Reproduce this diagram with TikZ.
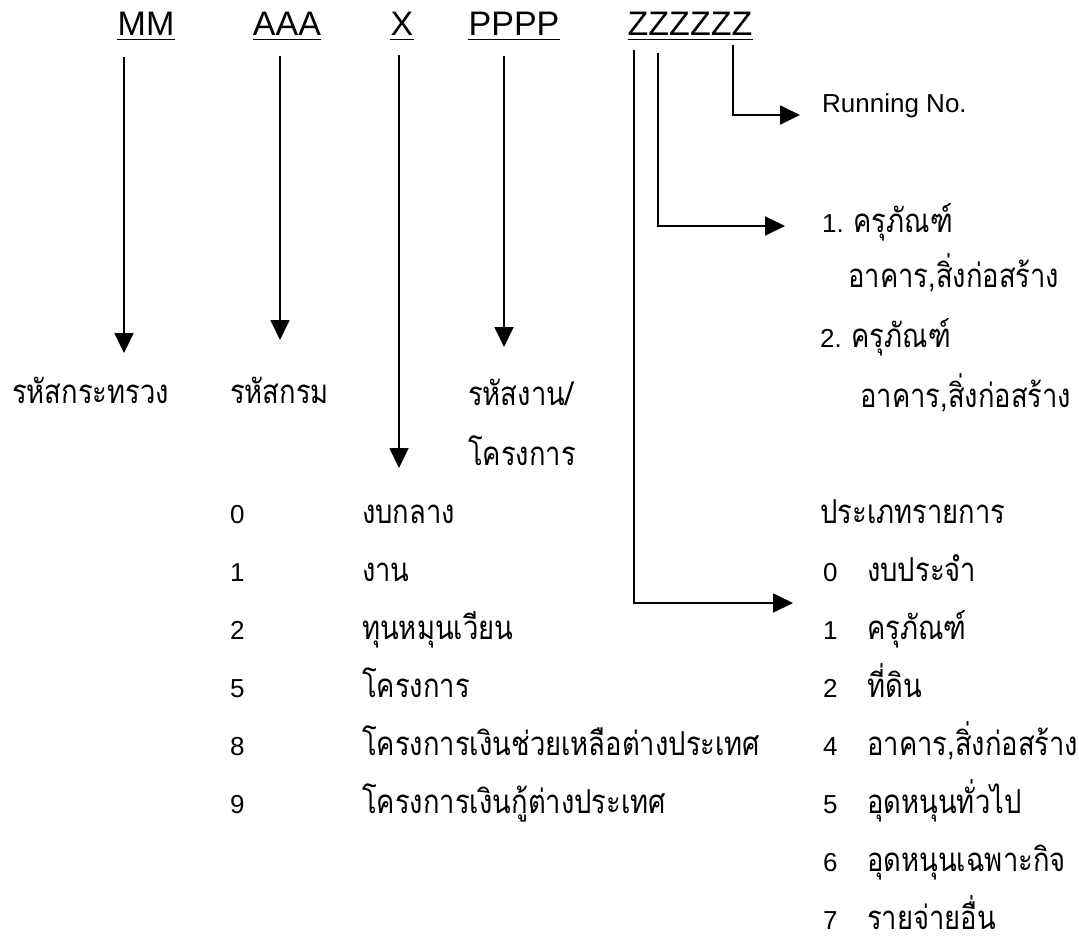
\documentclass[tikz,border=0pt]{standalone}
\usepackage{fontspec}
\setmainfont{Liberation Sans}
\newfontfamily\thaifont[Script=Thai,FakeStretch=0.83]{Loma}
\usetikzlibrary{arrows.meta}

\begin{document}
\begin{tikzpicture}
	[x=1pt,y=-1pt,
	 code/.style={anchor=base,inner sep=0pt,font=\fontsize{34}{40}\selectfont},
	 txt/.style={anchor=base west,inner sep=0pt,text depth=2pt,font=\fontsize{33}{38}\selectfont\thaifont},
	 num/.style={anchor=base west,inner sep=0pt,font=\fontsize{26}{30}\selectfont},
	 arr/.style={line width=1.8pt,-{Triangle[length=20pt,width=19pt]}}]
\useasboundingbox (0,0) rectangle (1079,943);
% the parts of the code
\node[code] (mm) at (146,35) {MM};
\node[code] (aaa) at (287,35) {AAA};
\node[code] (x) at (402,35) {X};
\node[code] (pppp) at (514,35) {PPPP};
\node[code] (zzz) at (690,35) {ZZZZZZ};
\foreach \n in {mm,aaa,x,pppp,zzz}
\draw[line width=1.4pt] ([yshift=-4.5pt]\n.base west) -- ([yshift=-4.5pt]\n.base east);
% what each part means
\node[txt] (min) at (12,403) {รหัสกระทรวง};
\node[txt] (dep) at (230,403) {รหัสกรม};
\node[txt] (job) at (468,405) {รหัสงาน/};
\node[txt] (job2) at (468,465) {โครงการ};
\node[num] (run) at (822,112) {Running No.};
\node[num] (as1) at (822,232) {1. {\fontsize{33}{38}\selectfont\thaifont ครุภัณฑ์}};
\node[txt] (as1b) at (848,287) {อาคาร,สิ่งก่อสร้าง};
\node[num] (as2) at (820,347) {2. {\fontsize{33}{38}\selectfont\thaifont ครุภัณฑ์}};
\node[txt] (as2b) at (860,407) {อาคาร,สิ่งก่อสร้าง};
\node[txt] (type) at (820,523) {ประเภทรายการ};
% budget kinds (X)
\foreach \k/\d/\t in {0/0/งบกลาง,1/1/งาน,2/2/ทุนหมุนเวียน,3/5/โครงการ,
	4/8/โครงการเงินช่วยเหลือต่างประเทศ,5/9/โครงการเงินกู้ต่างประเทศ}
{\node[num] (kn\k) at (230,{523+58.1*\k}) {\d};
 \node[txt] (kt\k) at (362,{523+58.1*\k}) {\t};}
% item types (first Z)
\foreach \k/\d/\t in {1/0/งบประจำ,2/1/ครุภัณฑ์,3/2/ที่ดิน,4/4/{อาคาร,สิ่งก่อสร้าง},
	5/5/อุดหนุนทั่วไป,6/6/อุดหนุนเฉพาะกิจ,7/7/รายจ่ายอื่น}
{\node[num] (tn\k) at (823,{523+58.1*\k}) {\d};
 \node[txt] (tt\k) at (867,{523+58.1*\k}) {\t};}
% arrows
\foreach \n/\xx/\ya/\yb in {mm/124/57/353,aaa/280/56/340,x/399/55/468,pppp/504/56/347}
{\coordinate (\n top) at (\xx,\ya);
 \coordinate (\n tip) at (\xx,\yb);
 \draw[arr] (\n top) -- (\n tip);}
\coordinate (z1top) at (634,50);
\coordinate (z1tip) at (793,603);
\coordinate (z2top) at (658,53);
\coordinate (z2tip) at (785,226);
\coordinate (z3top) at (733,45);
\coordinate (z3tip) at (800,115);
\draw[arr] (z1top) |- (z1tip);
\draw[arr] (z2top) |- (z2tip);
\draw[arr] (z3top) |- (z3tip);
\end{tikzpicture}
\end{document}
